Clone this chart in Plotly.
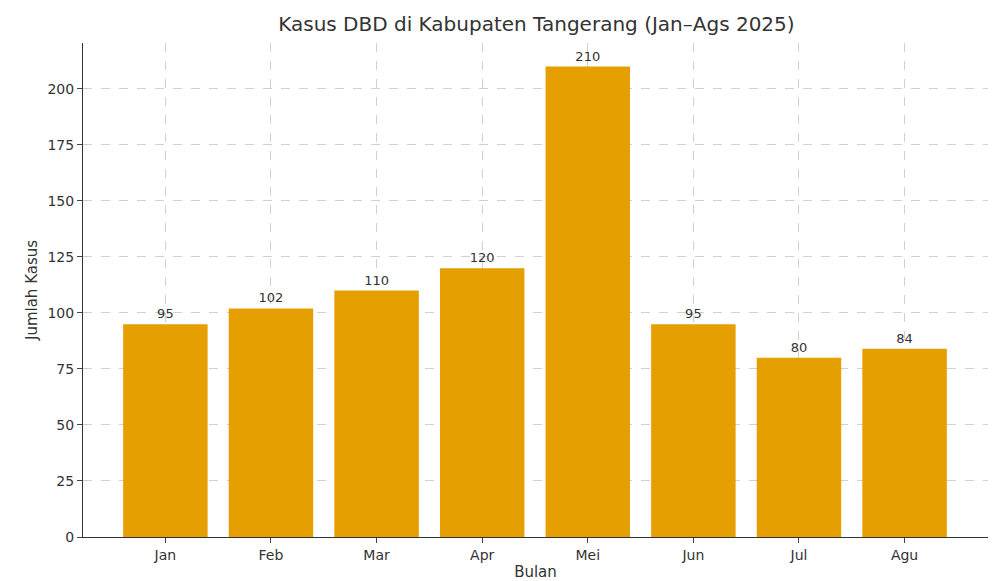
import plotly.graph_objects as go

months = ["Jan", "Feb", "Mar", "Apr", "Mei", "Jun", "Jul", "Agu"]
cases = [95, 102, 110, 120, 210, 95, 80, 84]

fig = go.Figure(go.Bar(
    x=list(range(len(months))), y=cases, width=0.8,
    marker=dict(color="#E69F00", line=dict(width=0)),
    text=[str(v) for v in cases], textposition="outside",
    textfont=dict(size=13, color="#333333"), cliponaxis=False,
))
fig.update_layout(
    width=997, height=581, paper_bgcolor="white", plot_bgcolor="white",
    margin=dict(l=75, r=17, t=35, b=48),
    font=dict(family="DejaVu Sans", color="#333333"),
    title=dict(text="Kasus DBD di Kabupaten Tangerang (Jan–Ags 2025)", x=0.53, xanchor="center",
               y=0.985, yanchor="top", font=dict(size=20, color="#333333")),
    showlegend=False, bargap=0.2,
)
fig.update_xaxes(tickvals=list(range(len(months))), ticktext=months, range=[-0.78, 7.79],
                 showline=True, linecolor="#333333", ticks="outside", ticklen=5,
                 showgrid=True, gridcolor="#d0d0d0", griddash="dash", gridwidth=1,
                 tickfont=dict(size=14), title=dict(text="Bulan", font=dict(size=15), standoff=4))
fig.update_yaxes(range=[0, 220.5], tickvals=list(range(0, 201, 25)),
                 showline=True, linecolor="#333333", ticks="outside", ticklen=5,
                 showgrid=True, gridcolor="#d0d0d0", griddash="dash", gridwidth=1, zeroline=False,
                 tickfont=dict(size=14), title=dict(text="Jumlah Kasus", font=dict(size=15), standoff=6))
fig.write_html("out.html")
